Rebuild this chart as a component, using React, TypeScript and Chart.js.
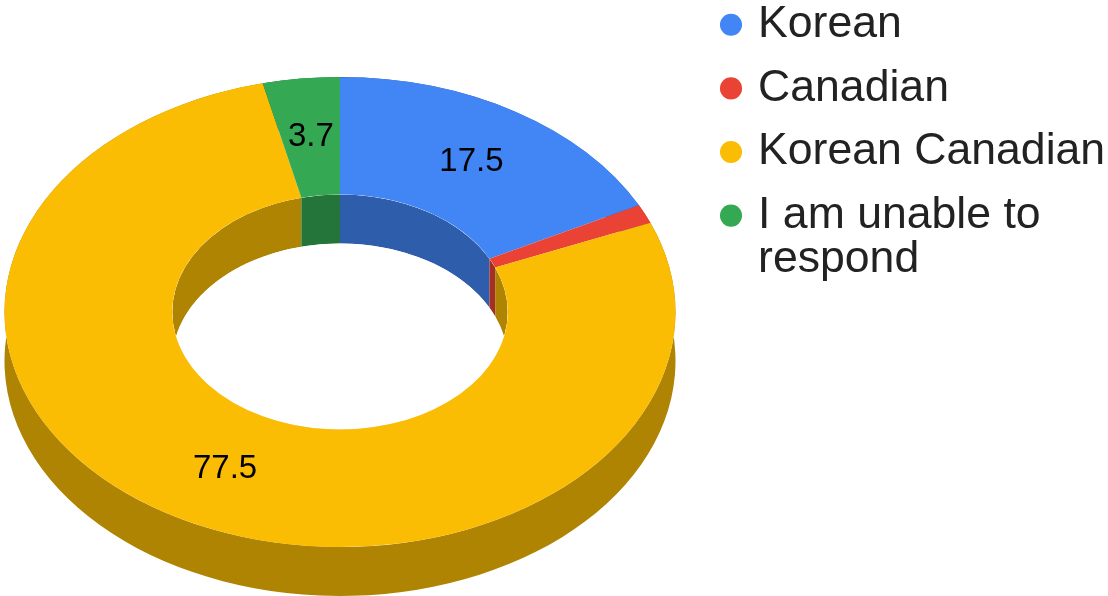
import React, { useEffect, useRef } from "react";
import { Chart, registerables } from "chart.js";

Chart.register(...registerables);

const categories: (string | string[])[] = ["Korean", "Canadian", "Korean Canadian", ["I am unable to", "respond"]];
const values = [17.5, 1.3, 77.5, 3.7];
const topColors = ["#4285F4", "#EA4335", "#FBBC04", "#34A853"];
const wallColors = ["#2E5DAB", "#A32F25", "#AF8402", "#24753A"];

const FONT = '"Liberation Sans", Arial, sans-serif';
const CX = 340;
const CY = 312;
const RADIUS = 335.5;
const SQUASH = 235 / 335.5;
const DEPTH = 49;
const MIN_LABEL = 2;

function extrude(ctx: CanvasRenderingContext2D, r: number, a0: number, a1: number) {
  ctx.beginPath();
  ctx.ellipse(CX, CY, r, r * SQUASH, 0, a0, a1);
  ctx.ellipse(CX, CY + DEPTH, r, r * SQUASH, 0, a1, a0, true);
  ctx.closePath();
}

const threeD = {
  id: "threeD",
  afterLayout(chart: any) {
    const legend = chart.legend;
    const pad = legend.options.labels.padding;
    legend.left = 726.25 - pad;
    legend.right = 1108;
    legend.top = 2.5 - pad;
    legend.bottom = 596;
  },
  beforeDatasetsDraw(chart: any) {
    const ctx: CanvasRenderingContext2D = chart.ctx;
    const arcs = chart.getDatasetMeta(0).data;
    const first = arcs[0];
    const inner = first.innerRadius;
    // outer wall
    arcs.forEach((arc: any, i: number) => {
      extrude(ctx, RADIUS, arc.startAngle, arc.endAngle);
      ctx.fillStyle = wallColors[i];
      ctx.fill();
    });
    // inner wall, seen through the hole
    ctx.save();
    ctx.beginPath();
    ctx.ellipse(CX, CY, inner, inner * SQUASH, 0, 0, Math.PI * 2);
    ctx.clip();
    arcs.forEach((arc: any, i: number) => {
      extrude(ctx, inner, arc.startAngle, arc.endAngle);
      ctx.fillStyle = wallColors[i];
      ctx.fill();
    });
    ctx.beginPath();
    ctx.ellipse(CX, CY + DEPTH, inner, inner * SQUASH, 0, 0, Math.PI * 2);
    ctx.fillStyle = "#ffffff";
    ctx.fill();
    ctx.restore();
    // flatten the ring itself
    ctx.save();
    ctx.translate(CX, CY);
    ctx.scale(1, SQUASH);
    ctx.translate(-first.x, -first.y);
  },
  afterDatasetsDraw(chart: any) {
    const ctx: CanvasRenderingContext2D = chart.ctx;
    ctx.restore();
    ctx.save();
    ctx.font = `33px ${FONT}`;
    ctx.fillStyle = "#000000";
    ctx.textAlign = "center";
    ctx.textBaseline = "middle";
    chart.getDatasetMeta(0).data.forEach((arc: any, i: number) => {
      if (values[i] < MIN_LABEL) return;
      const mid = (arc.startAngle + arc.endAngle) / 2;
      const r = (arc.innerRadius + arc.outerRadius) / 2;
      ctx.fillText(values[i].toFixed(1), CX + r * Math.cos(mid), CY + r * SQUASH * Math.sin(mid));
    });
    ctx.restore();
  },
};

export default function App() {
  const ref = useRef<HTMLCanvasElement>(null);
  useEffect(() => {
    document.body.style.margin = "0";
    const chart = new Chart(ref.current!, {
      type: "doughnut",
      data: {
        labels: categories as any,
        datasets: [
          {
            data: values,
            backgroundColor: topColors,
            borderWidth: 0,
            clip: false,
          } as any,
        ],
      },
      options: {
        animation: false,
        responsive: false,
        radius: RADIUS,
        cutout: "50%",
        plugins: {
          tooltip: { enabled: false },
          legend: {
            position: "right",
            align: "start",
            labels: {
              usePointStyle: true,
              pointStyle: "circle",
              boxWidth: 9.5,
              boxHeight: 15.6,
              padding: 19,
              color: "#222222",
              font: { family: FONT, size: 44.6, lineHeight: 1 },
            },
          },
        },
      } as any,
      plugins: [threeD],
    });
    return () => chart.destroy();
  }, []);
  return <canvas ref={ref} width={1108} height={596} style={{ display: "block" }} />;
}
